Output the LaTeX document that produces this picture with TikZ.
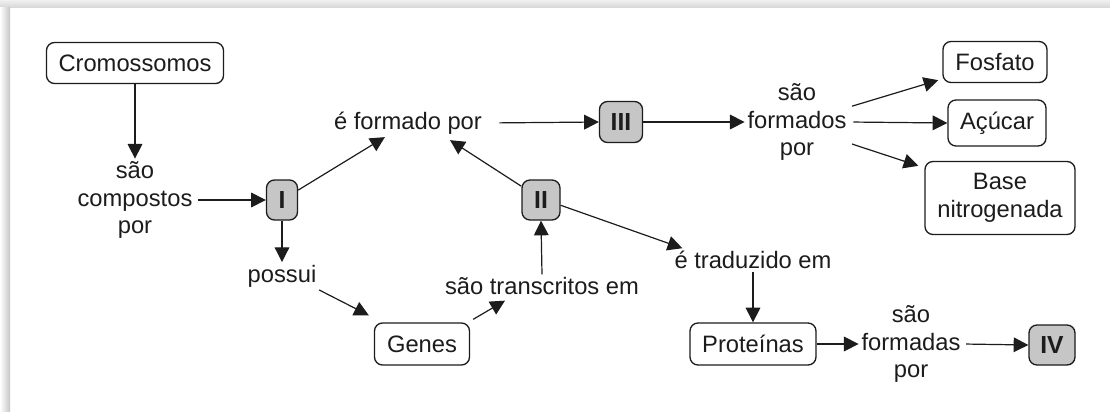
\documentclass[tikz,border=0pt]{standalone}
\usepackage{fontspec}
\setmainfont{Liberation Sans}
\usetikzlibrary{arrows.meta}
\definecolor{ink}{HTML}{1C1C1C}
\definecolor{gfill}{HTML}{C6C6C6}
\begin{document}
\begin{tikzpicture}[x=0.75pt,y=-0.75pt,
  every node/.style={font=\fontsize{17.8}{20.6}\selectfont, text=ink},
  box/.style={draw=ink, line width=1pt, rounded corners=6pt, fill=white, inner sep=0pt},
  gbox/.style={box, fill=gfill, font=\fontsize{18.5}{20.6}\selectfont\bfseries},
  lab/.style={align=center, inner sep=2pt},
  arr/.style={draw=ink, line width=0.9pt, -{Triangle[length=11pt,width=11pt]}}]
\useasboundingbox (0,0) rectangle (1110,411);
% background panel with shadow
\fill[white] (0,0) rectangle (1110,411);
\shade[top color=gray!12, bottom color=gray!30] (0,0) rectangle (1110,7);
\shade[left color=white, right color=gray!45] (0,7) rectangle (10,411);

% boxes
\node[box, minimum width=132.75pt, minimum height=30.75pt] (crom) at (135,63) {Cromossomos};
\node[box, minimum width=78pt, minimum height=30.75pt] (fos) at (995,62) {Fosfato};
\node[box, minimum width=73.5pt, minimum height=34.5pt] (acu) at (997,123) {Açúcar};
\node[box, minimum width=112.5pt, minimum height=54.75pt, align=center] (base) at (1000,198) {Base\\nitrogenada};
\node[box, minimum width=71.25pt, minimum height=31.5pt] (genes) at (422,344) {Genes};
\node[box, minimum width=94.5pt, minimum height=31.5pt] (prot) at (753,344) {Proteínas};
\node[gbox, minimum width=23.25pt, minimum height=30pt] (I) at (282,200) {I};
\node[gbox, minimum width=28.5pt, minimum height=30pt] (II) at (541,200) {II};
\node[gbox, minimum width=32.25pt, minimum height=30.75pt] (III) at (621,122) {III};
\node[gbox, minimum width=34.5pt, minimum height=30pt] (IV) at (1052,345) {IV};

% labels
\node[lab] (comp) at (135,200) {são\\compostos\\por};
\node[lab] (form) at (408,123) {é formado por};
\node[lab] (sfp) at (797,122) {são\\formados\\por};
\node[lab] (poss) at (282,276) {possui};
\node[lab] (trans) at (542,286) {são transcritos em};
\node[lab] (trad) at (753,260) {é traduzido em};
\node[lab] (sfa) at (911,344) {são\\formadas\\por};

% connectors
\draw[arr] (crom.south) -- (comp.north);
\draw[arr, shorten <=2pt] (comp.east) -- (I.west);
\draw[arr] (I) -- (form);
\draw[arr, shorten <=11pt] (form.east) -- (III.west);
\draw[arr] (III.east) -- (sfp.west);
\draw[arr, shorten <=2pt] (sfp.16) -- ([shift={(-4,-3)}]fos.south west);
\draw[arr, shorten <=3pt] (sfp.east) -- (acu.west);
\draw[arr, shorten <=2pt] (sfp.-22) -- ([shift={(-6,5)}]base.north west);
\draw[arr] (II.145) -- ([shift={(42,3)}]form.south);
\draw[arr] (II.-15) -- ([xshift=-53]trad.north);
\draw[arr] (trad.south) -- (prot.north);
\draw[arr] (prot.east) -- (sfa.west);
\draw[arr, shorten <=2pt] (sfa.east) -- (IV.west);
\draw[arr] (I.south) -- (poss.north);
\draw[arr] (poss.south east) -- ([shift={(-5,-7)}]genes.north west);
\draw[arr] ([shift={(3,-3)}]genes.north east) -- ([shift={(-37,3)}]trans.south);
\draw[arr] (trans.north) -- (II.south);
\end{tikzpicture}
\end{document}
